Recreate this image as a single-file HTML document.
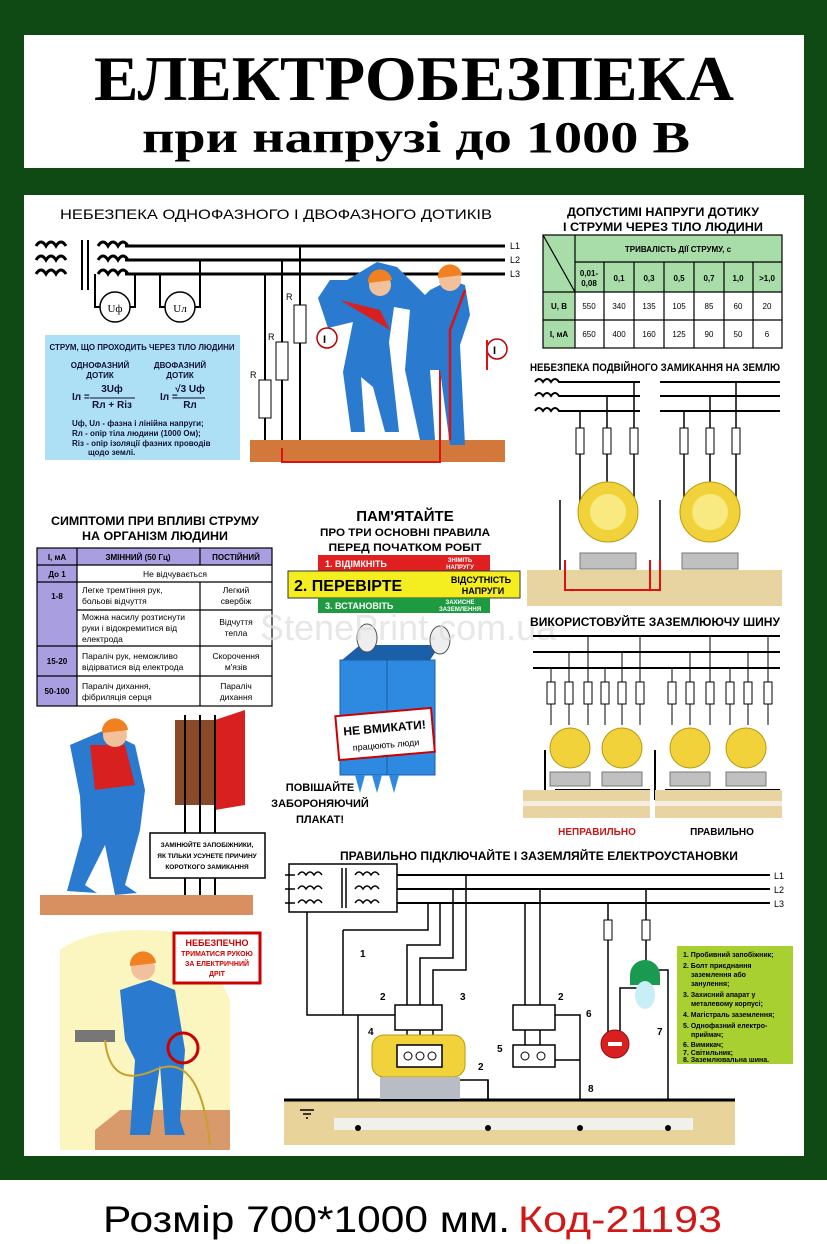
<!DOCTYPE html>
<html><head><meta charset="utf-8"><style>
html,body{margin:0;padding:0;background:#fff}
svg{display:block}
text{font-family:"Liberation Sans",sans-serif}
.b{font-weight:bold}
</style></head><body>
<svg width="827" height="1244" viewBox="0 0 827 1244" xmlns="http://www.w3.org/2000/svg">
<rect x="0" y="0" width="827" height="1180" fill="#0f4a14"/>
<rect x="0" y="1180" width="827" height="64" fill="#fff"/>
<rect x="24" y="35" width="780" height="133" fill="#fff"/>
<rect x="24" y="195" width="780" height="961" fill="#fff"/>

<text x="414" y="100" text-anchor="middle" style="font-family:'Liberation Serif',serif;font-weight:bold;font-size:64px" textLength="640" lengthAdjust="spacingAndGlyphs">ЕЛЕКТРОБЕЗПЕКА</text>
<text x="416" y="152" text-anchor="middle" style="font-family:'Liberation Serif',serif;font-weight:bold;font-size:44px" textLength="548" lengthAdjust="spacingAndGlyphs">при напрузі до 1000 В</text>

<!-- section 1 -->
<text x="60" y="219" font-size="14" textLength="432" lengthAdjust="spacingAndGlyphs">НЕБЕЗПЕКА ОДНОФАЗНОГО І ДВОФАЗНОГО ДОТИКІВ</text>
<g stroke="#000" stroke-width="3" fill="none">
<path d="M125 246H505M125 260H505M125 274H505"/>
<path d="M36 246q5-8 10 0q5-8 10 0q5-8 10 0M36 260q5-8 10 0q5-8 10 0q5-8 10 0M36 274q5-8 10 0q5-8 10 0q5-8 10 0"/>
<path d="M98 246q5-8 10 0q5-8 10 0q5-8 10 0M98 260q5-8 10 0q5-8 10 0q5-8 10 0M98 274q5-8 10 0q5-8 10 0q5-8 10 0"/>
<path d="M82 240V290M88 240V290" stroke-width="2"/>
<path d="M95 274V307H100M135 274V307H130M160 274V307H165M200 260V307H195" stroke-width="2"/>
<path d="M265 274V440M282 260V440M300 246V440" stroke-width="2"/>
</g>
<circle cx="115" cy="307" r="15" fill="#fff" stroke="#000" stroke-width="1.5"/>
<text x="115" y="312" font-size="11" text-anchor="middle" style="font-family:'Liberation Serif',serif">Uф</text>
<circle cx="180" cy="307" r="15" fill="#fff" stroke="#000" stroke-width="1.5"/>
<text x="180" y="312" font-size="11" text-anchor="middle" style="font-family:'Liberation Serif',serif">Uл</text>
<g fill="#fff" stroke="#000"><rect x="259" y="380" width="12" height="38"/><rect x="276" y="342" width="12" height="38"/><rect x="294" y="305" width="12" height="38"/></g>
<g font-size="9" style="font-family:'Liberation Serif',serif"><text x="250" y="378">R</text><text x="268" y="340">R</text><text x="286" y="300">R</text>
<text x="510" y="249">L1</text><text x="510" y="263">L2</text><text x="510" y="277">L3</text></g>
<rect x="250" y="440" width="255" height="22" fill="#d2783a"/>
<path d="M282 448V462H440V360M282 448" stroke="#d11" stroke-width="2" fill="none"/>
<g fill="#2a7ad0">
<path d="M330 280l-12 18 10 30 25 -6 -10 50 8 60 14 0 -4-55 12 10 12 45 14 0-10-90 5-35 28 5 10-10-35-35-20-5-30 18z"/>
<path d="M430 290l-20 20 -5 60 15 70 15 0-5-70 10 0 10 75 15 0-5-100 10-30 -5-30-15-5z"/>
</g>
<path d="M340 300l40 10 10 20" fill="#d82020"/>
<circle cx="380" cy="285" r="11" fill="#f2c09a"/><path d="M368 283a12 12 0 0 1 24-3z" fill="#f08020"/>
<circle cx="450" cy="280" r="11" fill="#f2c09a"/><path d="M438 278a12 12 0 0 1 24-3z" fill="#f08020"/>
<path d="M450 440V330L465 290" stroke="#d11" stroke-width="2.5" fill="none"/>
<circle cx="327" cy="338" r="10" fill="#fff" stroke="#b00" stroke-width="1.5"/><text x="323" y="343" font-size="11" class="b">I</text>
<circle cx="497" cy="349" r="10" fill="#fff" stroke="#b00" stroke-width="1.5"/><text x="493" y="354" font-size="11" class="b">I</text>
<path d="M487 340V370" stroke="#d11" stroke-width="2"/>
<rect x="45" y="335" width="195" height="125" fill="#aee0f5"/>
<g font-size="8" fill="#113" class="b">
<text x="142" y="350" text-anchor="middle" textLength="185" lengthAdjust="spacingAndGlyphs">СТРУМ, ЩО ПРОХОДИТЬ ЧЕРЕЗ ТІЛО ЛЮДИНИ</text>
<text x="100" y="368" text-anchor="middle">ОДНОФАЗНИЙ</text><text x="100" y="378" text-anchor="middle">ДОТИК</text>
<text x="180" y="368" text-anchor="middle">ДВОФАЗНИЙ</text><text x="180" y="378" text-anchor="middle">ДОТИК</text>
<text x="72" y="400" font-size="10">Iл =</text><text x="112" y="392" font-size="10" text-anchor="middle">3Uф</text><text x="112" y="408" font-size="10" text-anchor="middle">Rл + Rіз</text>
<text x="160" y="400" font-size="10">Iл =</text><text x="190" y="392" font-size="10" text-anchor="middle">√3 Uф</text><text x="190" y="408" font-size="10" text-anchor="middle">Rл</text>
<text x="72" y="426">Uф, Uл - фазна і лінійна напруги;</text>
<text x="72" y="436">Rл - опір тіла людини (1000 Ом);</text>
<text x="72" y="446">Rіз - опір ізоляції фазних проводів</text>
<text x="88" y="455">щодо землі.</text>
</g>
<path d="M90 398h45M175 398h30" stroke="#113"/>

<g font-size="12" class="b" text-anchor="middle"><text x="663" y="216" textLength="192" lengthAdjust="spacingAndGlyphs">ДОПУСТИМІ НАПРУГИ ДОТИКУ</text><text x="663" y="231" textLength="200" lengthAdjust="spacingAndGlyphs">І СТРУМИ ЧЕРЕЗ ТІЛО ЛЮДИНИ</text></g>
<rect x="543" y="235" width="239" height="57" fill="#a8dca8"/>
<rect x="543" y="292" width="32" height="56" fill="#a8dca8"/>
<g stroke="#000" stroke-width="1.2" fill="none">
<rect x="543" y="235" width="239" height="113"/>
<path d="M575 235V348M575 262H782M543 292H782M543 320H782M604 262V348M634 262V348M664 262V348M694 262V348M724 262V348M753 262V348M543 235L575 292"/>
</g>
<g font-size="8" text-anchor="middle" class="b">
<text x="678" y="252">ТРИВАЛІСТЬ ДІЇ СТРУМУ, с</text>
<text x="589" y="276">0,01-</text><text x="589" y="286">0,08</text>
<text x="619" y="281">0,1</text><text x="649" y="281">0,3</text><text x="679" y="281">0,5</text><text x="709" y="281">0,7</text><text x="738" y="281">1,0</text><text x="767" y="281">&gt;1,0</text>
<text x="559" y="309">U, В</text><text x="559" y="337">І, мА</text>
</g>
<g font-size="8" text-anchor="middle">
<text x="589" y="309">550</text><text x="619" y="309">340</text><text x="649" y="309">135</text><text x="679" y="309">105</text><text x="709" y="309">85</text><text x="738" y="309">60</text><text x="767" y="309">20</text>
<text x="589" y="337">650</text><text x="619" y="337">400</text><text x="649" y="337">160</text><text x="679" y="337">125</text><text x="709" y="337">90</text><text x="738" y="337">50</text><text x="767" y="337">6</text>
</g>

<text x="530" y="371" font-size="11" class="b" textLength="250" lengthAdjust="spacingAndGlyphs">НЕБЕЗПЕКА ПОДВІЙНОГО ЗАМИКАННЯ НА ЗЕМЛЮ</text>
<g stroke="#000" stroke-width="2" fill="none">
<path d="M535 382q4-6 8 0q4-6 8 0q4-6 8 0H640M660 382H780M535 396q4-6 8 0q4-6 8 0q4-6 8 0H640M660 396H780M535 411q4-6 8 0q4-6 8 0q4-6 8 0H640M660 411H780"/>
<path d="M580 411V520M607 396V520M634 382V520M684 411V520M710 396V520M736 382V520" stroke-width="1.5"/>
<path d="M560 500V580M660 500V580" stroke-width="1.5"/>
</g>
<g fill="#fff" stroke="#000"><rect x="576" y="428" width="8" height="26"/><rect x="603" y="428" width="8" height="26"/><rect x="630" y="428" width="8" height="26"/><rect x="680" y="428" width="8" height="26"/><rect x="706" y="428" width="8" height="26"/><rect x="732" y="428" width="8" height="26"/></g>
<rect x="527" y="570" width="255" height="36" fill="#e8d4a0"/>
<g fill="#f2d23a" stroke="#b89a10"><circle cx="608" cy="512" r="30"/><circle cx="710" cy="512" r="30"/></g>
<g fill="#f8ea80"><circle cx="608" cy="512" r="18"/><circle cx="710" cy="512" r="18"/></g>
<g fill="#c0c0c0" stroke="#777"><rect x="580" y="553" width="56" height="16"/><rect x="682" y="553" width="56" height="16"/></g>
<path d="M565 560V590H650V560M650 590H660V560" stroke="#d11" stroke-width="2" fill="none"/>

<g font-size="12" class="b" text-anchor="middle"><text x="155" y="525" textLength="208" lengthAdjust="spacingAndGlyphs">СИМПТОМИ ПРИ ВПЛИВІ СТРУМУ</text><text x="155" y="540" textLength="146" lengthAdjust="spacingAndGlyphs">НА ОРГАНІЗМ ЛЮДИНИ</text></g>
<rect x="37" y="548" width="235" height="17" fill="#a99ee0"/>
<rect x="37" y="565" width="40" height="141" fill="#a99ee0"/>
<g stroke="#000" stroke-width="1.2" fill="none"><rect x="37" y="548" width="235" height="158"/>
<path d="M77 548V706M200 548V565M200 582V706M37 565H272M37 582H272M77 610H272M37 646H272M37 676H272"/></g>
<g font-size="8" class="b" text-anchor="middle"><text x="57" y="560">І, мА</text><text x="138" y="560">ЗМІННИЙ (50 Гц)</text><text x="236" y="560">ПОСТІЙНИЙ</text><text x="57" y="577">До 1</text><text x="57" y="599">1-8</text><text x="57" y="664">15-20</text><text x="57" y="694">50-100</text></g>
<g font-size="8.5">
<text x="175" y="577" text-anchor="middle">Не відчувається</text>
<text x="82" y="593">Легке тремтіння рук,</text><text x="82" y="604">больові відчуття</text>
<text x="82" y="620">Можна насилу розтиснути</text><text x="82" y="631">руки і відокремитися від</text><text x="82" y="642">електрода</text>
<text x="82" y="659">Параліч рук, неможливо</text><text x="82" y="670">відірватися від електрода</text>
<text x="82" y="689">Параліч дихання,</text><text x="82" y="700">фібриляція серця</text>
<g text-anchor="middle"><text x="236" y="593">Легкий</text><text x="236" y="604">свербіж</text><text x="236" y="625">Відчуття</text><text x="236" y="636">тепла</text><text x="236" y="659">Скорочення</text><text x="236" y="670">м'язів</text><text x="236" y="689">Параліч</text><text x="236" y="700">дихання</text></g>
</g>

<g class="b" text-anchor="middle"><text x="405" y="521" font-size="15">ПАМ'ЯТАЙТЕ</text><text x="405" y="536" font-size="11" textLength="170" lengthAdjust="spacingAndGlyphs">ПРО ТРИ ОСНОВНІ ПРАВИЛА</text><text x="405" y="551" font-size="11" textLength="153" lengthAdjust="spacingAndGlyphs">ПЕРЕД ПОЧАТКОМ РОБІТ</text></g>
<rect x="318" y="555" width="172" height="16" fill="#e02020"/>
<rect x="288" y="571" width="232" height="27" fill="#f4ee20" stroke="#333"/>
<rect x="318" y="598" width="172" height="15" fill="#1e9a40"/>
<g fill="#fff" class="b"><text x="325" y="567" font-size="9">1. ВІДІМКНІТЬ</text><text x="460" y="562" font-size="6" text-anchor="middle">ЗНІМІТЬ</text><text x="460" y="569" font-size="6" text-anchor="middle">НАПРУГУ</text>
<text x="325" y="609" font-size="9">3. ВСТАНОВІТЬ</text><text x="460" y="604" font-size="6" text-anchor="middle">ЗАХИСНЕ</text><text x="460" y="611" font-size="6" text-anchor="middle">ЗАЗЕМЛЕННЯ</text></g>
<text x="294" y="591" font-size="16" class="b">2. ПЕРЕВІРТЕ</text>
<g font-size="9" class="b" text-anchor="middle"><text x="481" y="583">ВІДСУТНІСТЬ</text><text x="483" y="594">НАПРУГИ</text></g>
<path d="M342 660L360 645H440L430 660Z" fill="#1b5fa8"/>
<rect x="340" y="660" width="95" height="115" fill="#2e8ae0" stroke="#1b5fa8"/>
<path d="M355 775l5 18 5-18M372 775l5 18 5-18M389 775l5 18 5-18" fill="#2e8ae0"/>
<path d="M387 660V775" stroke="#1b5fa8"/>
<g fill="#eee" stroke="#555"><ellipse cx="367" cy="638" rx="10" ry="14"/><ellipse cx="440" cy="640" rx="10" ry="14"/></g>
<g transform="rotate(-5 385 733)"><rect x="337" y="712" width="96" height="44" fill="#fff" stroke="#c00" stroke-width="2"/>
<text x="385" y="732" font-size="12" class="b" text-anchor="middle">НЕ ВМИКАТИ!</text><text x="385" y="748" font-size="9" text-anchor="middle">працюють люди</text></g>
<g class="b" font-size="11" text-anchor="middle"><text x="320" y="791">ПОВІШАЙТЕ</text><text x="320" y="807">ЗАБОРОНЯЮЧИЙ</text><text x="320" y="823">ПЛАКАТ!</text></g>
<text x="260" y="640" font-size="36" fill="#ddd" opacity="0.7">StenePrint.com.ua</text>

<text x="530" y="626" font-size="12" class="b" textLength="250" lengthAdjust="spacingAndGlyphs">ВИКОРИСТОВУЙТЕ ЗАЗЕМЛЮЮЧУ ШИНУ</text>
<g stroke="#000" stroke-width="2"><path d="M533 636H780M533 652H780M533 668H780"/></g>
<g stroke="#000" stroke-width="1" fill="none"><path d="M551 668V725M569 652V725M588 636V725M605 668V725M622 652V725M640 636V725M672 668V725M690 652V725M710 636V725M730 668V725M748 652V725M768 636V725"/>
<path d="M545 750V800M655 750V800M555 790H650M665 790H780" stroke-width="2"/></g>
<g fill="#fff" stroke="#000"><rect x="547" y="682" width="8" height="22"/><rect x="565" y="682" width="8" height="22"/><rect x="584" y="682" width="8" height="22"/><rect x="601" y="682" width="8" height="22"/><rect x="618" y="682" width="8" height="22"/><rect x="636" y="682" width="8" height="22"/><rect x="668" y="682" width="8" height="22"/><rect x="686" y="682" width="8" height="22"/><rect x="706" y="682" width="8" height="22"/><rect x="726" y="682" width="8" height="22"/><rect x="744" y="682" width="8" height="22"/><rect x="764" y="682" width="8" height="22"/></g>
<rect x="523" y="790" width="127" height="28" fill="#e8d4a0"/><rect x="655" y="790" width="127" height="28" fill="#e8d4a0"/>
<rect x="523" y="801" width="127" height="5" fill="#f4ede0"/><rect x="655" y="801" width="127" height="5" fill="#f4ede0"/>
<g fill="#f2d23a" stroke="#b89a10"><circle cx="570" cy="748" r="20"/><circle cx="622" cy="748" r="20"/><circle cx="690" cy="748" r="20"/><circle cx="746" cy="748" r="20"/></g>
<g fill="#c0c0c0" stroke="#777"><rect x="550" y="772" width="40" height="14"/><rect x="602" y="772" width="40" height="14"/><rect x="670" y="772" width="40" height="14"/><rect x="726" y="772" width="40" height="14"/></g>
<text x="597" y="835" font-size="10" class="b" fill="#c81818" text-anchor="middle">НЕПРАВИЛЬНО</text>
<text x="722" y="835" font-size="10" class="b" text-anchor="middle">ПРАВИЛЬНО</text>

<path d="M40 895H253V915H40Z" fill="#d89060"/>
<rect x="175" y="720" width="45" height="85" fill="#8a4a2a"/>
<path d="M215 720L245 710V805L215 810Z" fill="#d82020"/>
<g stroke="#000" stroke-width="2"><path d="M185 715V895M200 715V895M215 715V895"/></g>
<path d="M70 745l35-15 30 15 10 45-5 40-15 55 12 8-22 2-10-50-20 40 12 8-30-2 15-55-2-40z" fill="#2a7ad0"/>
<path d="M90 745l35 0 10 40-40 5z" fill="#d82020"/>
<circle cx="115" cy="735" r="12" fill="#f2c09a"/><path d="M102 733a13 13 0 0 1 26-3z" fill="#f08020"/>
<rect x="150" y="833" width="115" height="45" fill="#fff" stroke="#000" stroke-width="1.5"/>
<g font-size="6.5" class="b" text-anchor="middle"><text x="207" y="847">ЗАМІНЮЙТЕ ЗАПОБІЖНИКИ,</text><text x="207" y="858">ЯК ТІЛЬКИ УСУНЕТЕ ПРИЧИНУ</text><text x="207" y="869">КОРОТКОГО ЗАМИКАННЯ</text></g>

<path d="M60 950Q100 920 200 935L230 1000V1150H60Z" fill="#fbf6c0"/>
<path d="M95 1130L120 1110H230V1150H95Z" fill="#d89a6a"/>
<path d="M120 990l30-10 25 10 10 60-5 70 5 15-20 0-5-70-10 70-20 0 5-75-10-20z" fill="#2a7ad0"/>
<circle cx="143" cy="968" r="12" fill="#f2c09a"/><path d="M130 966a13 13 0 0 1 26-3z" fill="#f08020"/>
<rect x="75" y="1030" width="40" height="12" fill="#777"/>
<circle cx="183" cy="1048" r="15" fill="none" stroke="#c00" stroke-width="3"/>
<path d="M105 1040q5 50 50 30t55 75" stroke="#c8a030" stroke-width="2" fill="none"/>
<rect x="174" y="933" width="86" height="50" fill="#fff" stroke="#c00" stroke-width="3"/>
<g font-size="7" class="b" fill="#c00" text-anchor="middle"><text x="217" y="946" font-size="9">НЕБЕЗПЕЧНО</text><text x="217" y="956">ТРИМАТИСЯ РУКОЮ</text><text x="217" y="966">ЗА ЕЛЕКТРИЧНИЙ</text><text x="217" y="976">ДРІТ</text></g>

<text x="340" y="860" font-size="12" class="b" textLength="398" lengthAdjust="spacingAndGlyphs">ПРАВИЛЬНО ПІДКЛЮЧАЙТЕ І ЗАЗЕМЛЯЙТЕ ЕЛЕКТРОУСТАНОВКИ</text>
<rect x="289" y="864" width="108" height="48" fill="#fff" stroke="#000" stroke-width="1.5"/>
<g stroke="#000" stroke-width="1.5" fill="none">
<path d="M285 875h10M285 889h10M285 903h10"/>
<path d="M298 875q4-6 8 0q4-6 8 0q4-6 8 0M298 889q4-6 8 0q4-6 8 0q4-6 8 0M298 903q4-6 8 0q4-6 8 0q4-6 8 0M355 875q4-6 8 0q4-6 8 0q4-6 8 0M355 889q4-6 8 0q4-6 8 0q4-6 8 0M355 903q4-6 8 0q4-6 8 0q4-6 8 0"/>
<path d="M342 868V908M346 868V908"/>
</g>
<g stroke="#000" stroke-width="2"><path d="M397 875H770M397 889H770M397 903H770"/></g>
<g font-size="9"><text x="774" y="879">L1</text><text x="774" y="893">L2</text><text x="774" y="907">L3</text></g>
<g stroke="#000" stroke-width="1.5" fill="none">
<path d="M307 912V1015H395M343 930V1015M343 930H428V903M358 1015V1100"/>
<path d="M407 1010V945H440V903M420 1010V958H453V889M433 1010V970H466V875"/>
<path d="M420 1030V1045M433 1030V1045M407 1030V1045"/>
<path d="M525 903V1010M540 889V1010M525 1030V1060M540 1030V1060M555 1015H580V1100M555 1060H580"/>
<path d="M608 903V920M608 940V1035M646 889V920M646 940V965M620 1035V988H640V965M653 970H668V1100M488 1080V1100"/>
<path d="M455 1080H488V1100"/>
</g>
<rect x="395" y="1005" width="47" height="25" fill="#fff" stroke="#000" stroke-width="1.5"/>
<rect x="513" y="1005" width="42" height="25" fill="#fff" stroke="#000" stroke-width="1.5"/>
<g fill="#fff" stroke="#000"><rect x="604" y="920" width="8" height="20"/><rect x="642" y="920" width="8" height="20"/></g>
<rect x="284" y="1100" width="451" height="45" fill="#e8d49a"/>
<path d="M284 1100H735" stroke="#000" stroke-width="3"/>
<rect x="334" y="1118" width="359" height="12" fill="#f2f0ea"/>
<rect x="372" y="1035" width="93" height="42" rx="12" fill="#f2d23a" stroke="#b89a10"/>
<rect x="380" y="1077" width="80" height="22" fill="#b8bcc4"/>
<rect x="397" y="1045" width="45" height="22" fill="#fff" stroke="#000" stroke-width="1.5"/>
<rect x="513" y="1045" width="42" height="22" fill="#fff" stroke="#000" stroke-width="1.5"/>
<g fill="none" stroke="#000"><circle cx="408" cy="1056" r="4"/><circle cx="420" cy="1056" r="4"/><circle cx="432" cy="1056" r="4"/><circle cx="525" cy="1056" r="4"/><circle cx="541" cy="1056" r="4"/></g>
<g fill="#000"><circle cx="358" cy="1128" r="3"/><circle cx="488" cy="1128" r="3"/><circle cx="580" cy="1128" r="3"/><circle cx="668" cy="1128" r="3"/></g>
<path d="M300 1110h14M303 1114h8M306 1118h2" stroke="#000" stroke-width="1.5"/>
<circle cx="615" cy="1044" r="14" fill="#d82020" stroke="#901010"/><rect x="608" y="1042" width="14" height="4" fill="#fff"/>
<path d="M630 975a15 15 0 0 1 30 0v10h-30z" fill="#1a9a50"/><ellipse cx="645" cy="995" rx="10" ry="14" fill="#c8eef8"/>
<g font-size="10" class="b"><text x="360" y="957">1</text><text x="380" y="1000">2</text><text x="460" y="1000">3</text><text x="368" y="1035">4</text><text x="497" y="1052">5</text><text x="586" y="1017">6</text><text x="657" y="1035">7</text><text x="588" y="1092">8</text><text x="558" y="1000">2</text><text x="478" y="1070">2</text></g>
<rect x="677" y="946" width="116" height="118" fill="#a8d030"/>
<g font-size="7" class="b"><text x="683" y="957">1. Пробивний запобіжник;</text><text x="683" y="968">2. Болт приєднання</text><text x="691" y="977">заземлення або</text><text x="691" y="986">занулення;</text><text x="683" y="997">3. Захисний апарат у</text><text x="691" y="1006">металевому корпусі;</text><text x="683" y="1017">4. Магістраль заземлення;</text><text x="683" y="1028">5. Однофазний електро-</text><text x="691" y="1037">приймач;</text><text x="683" y="1047">6. Вимикач;</text><text x="683" y="1055">7. Світильник;</text><text x="683" y="1062">8. Заземлювальна шина.</text></g>

<text x="103" y="1232" font-size="37" textLength="407" lengthAdjust="spacingAndGlyphs">Розмір 700*1000 мм.</text>
<text x="518" y="1232" font-size="37" fill="#d01818" textLength="204" lengthAdjust="spacingAndGlyphs">Код-21193</text>
</svg>
</body></html>
